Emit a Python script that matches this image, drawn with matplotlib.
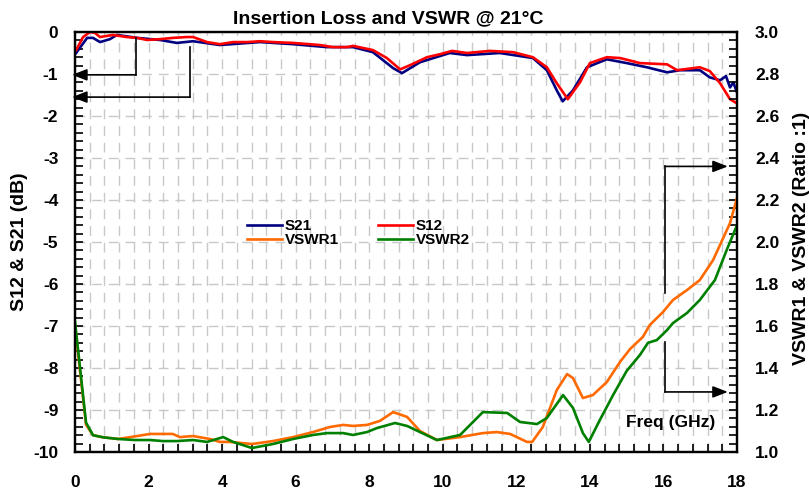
import matplotlib
matplotlib.use("Agg")
import matplotlib.pyplot as plt
from matplotlib.ticker import MultipleLocator, FormatStrFormatter
from matplotlib.lines import Line2D

plt.rcParams['font.family'] = ['Liberation Sans', 'DejaVu Sans']
plt.rcParams['font.weight'] = 'bold'
plt.rcParams['axes.unicode_minus'] = False
plt.rcParams['lines.scale_dashes'] = False

# ---------------- data ----------------
s12_f = [0.03, 0.22, 0.41, 0.54, 0.68, 1.03, 1.41, 1.69, 1.96, 2.31, 2.67, 3.04, 3.21,
         3.59, 3.94, 4.30, 4.68, 5.03, 5.38, 5.93, 6.66, 7.01, 7.40, 7.56, 8.10, 8.48,
         8.84, 9.11, 9.57, 9.92, 10.25, 10.66, 11.28, 11.91, 12.45, 12.83, 13.10, 13.40,
         13.73, 14.00, 14.46, 14.82, 15.36, 16.10, 16.37, 16.99, 17.26, 17.54, 17.81, 18.0]
s12_db = [-0.43, -0.12, 0.0, -0.02, -0.12, -0.07, -0.12, -0.14, -0.19, -0.17, -0.14, -0.12,
          -0.12, -0.24, -0.29, -0.24, -0.24, -0.22, -0.24, -0.26, -0.31, -0.36, -0.36, -0.33,
          -0.43, -0.62, -0.89, -0.79, -0.60, -0.53, -0.45, -0.50, -0.45, -0.48, -0.60, -0.84,
          -1.22, -1.60, -1.20, -0.74, -0.60, -0.62, -0.74, -0.77, -0.91, -0.84, -0.93, -1.22,
          -1.60, -1.70]

s21_f = [0.03, 0.33, 0.49, 0.68, 0.95, 1.14, 1.69, 2.31, 2.77, 3.21, 3.94, 5.03, 5.93,
         6.85, 7.56, 8.10, 8.65, 8.89, 9.38, 10.19, 10.66, 11.55, 12.45, 12.83, 13.10,
         13.26, 13.54, 13.92, 14.46, 15.0, 15.55, 16.10, 16.45, 16.99, 17.26, 17.54,
         17.70, 17.81, 17.90, 18.0]
s21_db = [-0.50, -0.14, -0.14, -0.24, -0.17, -0.07, -0.14, -0.19, -0.26, -0.22, -0.31,
          -0.24, -0.29, -0.36, -0.36, -0.48, -0.86, -0.98, -0.72, -0.50, -0.55, -0.50,
          -0.62, -0.91, -1.39, -1.65, -1.39, -0.84, -0.65, -0.74, -0.84, -0.96, -0.91,
          -0.91, -1.08, -1.15, -1.05, -1.32, -1.20, -1.44]

vswr1_f = [0.0, 0.30, 0.49, 0.76, 1.17, 1.69, 2.04, 2.66, 2.85, 3.21, 3.67, 3.94, 4.21,
           4.81, 5.38, 5.93, 6.47, 6.93, 7.29, 7.56, 7.94, 8.29, 8.65, 9.03, 9.38, 9.84,
           10.47, 11.09, 11.47, 11.83, 12.29, 12.43, 12.72, 13.10, 13.38, 13.54, 13.81,
           14.08, 14.46, 14.82, 15.09, 15.44, 15.63, 15.99, 16.26, 16.64, 16.99, 17.35,
           17.81, 18.0]
vswr1 = [1.60, 1.13, 1.08, 1.07, 1.062, 1.076, 1.086, 1.086, 1.071, 1.076, 1.062, 1.048,
         1.048, 1.038, 1.052, 1.071, 1.095, 1.119, 1.129, 1.124, 1.129, 1.148, 1.190,
         1.167, 1.100, 1.057, 1.071, 1.090, 1.095, 1.086, 1.048, 1.048, 1.119, 1.295,
         1.371, 1.352, 1.257, 1.271, 1.333, 1.429, 1.490, 1.548, 1.605, 1.667, 1.724,
         1.771, 1.819, 1.914, 2.09, 2.21]

vswr2_f = [0.0, 0.30, 0.49, 0.76, 1.17, 1.63, 2.04, 2.39, 2.77, 3.21, 3.59, 4.03, 4.30,
           4.81, 5.38, 5.93, 6.47, 6.85, 7.29, 7.56, 7.94, 8.21, 8.70, 9.03, 9.38, 9.84,
           10.47, 11.09, 11.75, 12.10, 12.56, 12.83, 13.27, 13.54, 13.81, 13.97, 14.27,
           14.63, 15.00, 15.36, 15.58, 15.82, 16.10, 16.26, 16.64, 16.99, 17.40, 17.72, 18.0]
vswr2 = [1.62, 1.14, 1.08, 1.07, 1.062, 1.057, 1.057, 1.052, 1.052, 1.057, 1.048, 1.071,
         1.048, 1.019, 1.038, 1.062, 1.081, 1.090, 1.090, 1.081, 1.095, 1.114, 1.138,
         1.124, 1.095, 1.057, 1.081, 1.190, 1.186, 1.143, 1.133, 1.162, 1.271, 1.21,
         1.09, 1.048, 1.152, 1.271, 1.386, 1.462, 1.52, 1.533, 1.581, 1.614, 1.662,
         1.724, 1.819, 1.962, 2.08]

title = "Insertion Loss and VSWR @ 21\u00b0C"
x_ticks = list(range(0, 19, 2))
left_ticks = list(range(-10, 1))

# ---------------- figure ----------------
fig = plt.figure(figsize=(8.09, 4.91), dpi=100)
ax = fig.add_axes([75/809, 1-452/491, (737-75)/809, (452-32)/491])
ax2 = ax.twinx()

TS = 12.5
LW = 1.9
ax.plot(s21_f, s21_db, color='#000080', lw=LW, zorder=3)
ax.plot(s12_f, s12_db, color='#ff0000', lw=LW, zorder=4)
ax2.plot(vswr1_f, vswr1, color='#ff6a00', lw=LW)
ax2.plot(vswr2_f, vswr2, color='#008000', lw=LW)

ax.set_xlim(0, 18)
ax.set_ylim(-10, 0)
ax2.set_ylim(1, 3)
ax.set_xticks(x_ticks)
ax.set_yticks(left_ticks)
ax.xaxis.set_minor_locator(MultipleLocator(0.4))
ax.yaxis.set_minor_locator(MultipleLocator(0.2))
ax2.yaxis.set_major_locator(MultipleLocator(0.2))
ax2.yaxis.set_minor_locator(MultipleLocator(0.04))
ax2.yaxis.set_major_formatter(FormatStrFormatter('%.1f'))

for a in (ax, ax2):
    a.tick_params(which='both', direction='in', length=6, width=1.2, labelsize=TS)
    for sp in a.spines.values():
        sp.set_linewidth(1.6)
        sp.set_color('black')
ax.tick_params(axis='x', which='both', top=False, pad=16.5)
ax.tick_params(axis='y', which='both', pad=12)
ax2.tick_params(axis='y', which='both', pad=13)
for lab in ax.get_xticklabels() + ax.get_yticklabels() + ax2.get_yticklabels():
    lab.set_fontweight('bold')

gs = dict(color='#c8c8c8', lw=1.0, linestyle=(0, (7, 5)))
ax.grid(True, which='both', axis='x', **gs)
ax.grid(True, which='major', axis='y', **gs)
ax.set_axisbelow(True)

fig.text(388/809, 1-23/491, title, ha='center', va='baseline', fontsize=14, fontweight='bold')
fig.text(20/809, 1-242/491, "S12 & S21 (dB)", rotation=90, ha='center', va='center',
         fontsize=14, fontweight='bold')
fig.text(802/809, 1-238/491, "VSWR1 & VSWR2 (Ratio :1)", rotation=90, ha='center',
         va='center', fontsize=14, fontweight='bold')
ax.text(16.2, -9.3, "Freq (GHz)", ha='center', va='center', fontsize=TS, fontweight='bold')

# annotation arrows
def bracket(axis, x_v, y_top, y_bot, y_arrow, x_tip):
    axis.plot([x_v, x_v], [y_top, y_bot], color='black', lw=1.2, clip_on=False, zorder=6)
    axis.annotate('', xy=(x_tip, y_arrow), xytext=(x_v, y_arrow),
                  arrowprops=dict(arrowstyle='-|>,head_length=0.9,head_width=0.35',
                                  color='black', lw=1.2, shrinkA=0, shrinkB=0),
                  annotation_clip=False, zorder=6)

bracket(ax, 1.66, -0.15, -1.02, -1.02, -0.08)
bracket(ax, 3.13, -0.36, -1.55, -1.55, -0.08)
bracket(ax2, 16.04, 2.36, 1.757, 2.36, 17.75)
bracket(ax2, 16.04, 1.524, 1.286, 1.286, 17.75)

handles = [Line2D([], [], color='#000080', lw=LW), Line2D([], [], color='#ff6a00', lw=LW),
           Line2D([], [], color='#ff0000', lw=LW), Line2D([], [], color='#008000', lw=LW)]
labels = ['S21', 'VSWR1', 'S12', 'VSWR2']
leg = ax2.legend(handles, labels, ncol=2, loc='upper left', frameon=False,
                 bbox_to_anchor=(247/809, 1-219/491), bbox_transform=fig.transFigure,
                 prop=dict(size=11, weight='bold'), handlelength=2.3, handletextpad=0.15,
                 labelspacing=0.0, columnspacing=2.6, borderpad=0, borderaxespad=0)

fig.savefig('out.png', dpi=100)
